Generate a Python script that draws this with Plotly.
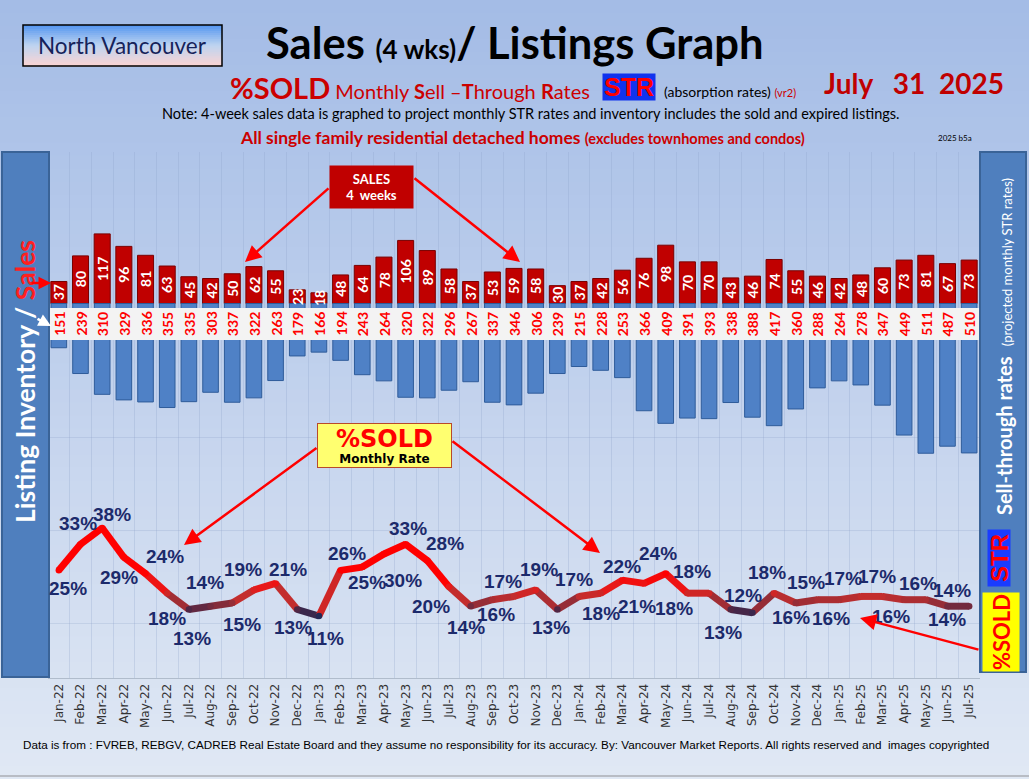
import plotly.graph_objects as go

# ---------------- data ----------------
months = ["Jan-22", "Feb-22", "Mar-22", "Apr-22", "May-22", "Jun-22", "Jul-22", "Aug-22", "Sep-22", "Oct-22", "Nov-22", "Dec-22",
          "Jan-23", "Feb-23", "Mar-23", "Apr-23", "May-23", "Jun-23", "Jul-23", "Aug-23", "Sep-23", "Oct-23", "Nov-23", "Dec-23",
          "Jan-24", "Feb-24", "Mar-24", "Apr-24", "May-24", "Jun-24", "Jul-24", "Aug-24", "Sep-24", "Oct-24", "Nov-24", "Dec-24",
          "Jan-25", "Feb-25", "Mar-25", "Apr-25", "May-25", "Jun-25", "Jul-25"]
sales = [37, 80, 117, 96, 81, 63, 45, 42, 50, 62, 55, 23,
         18, 48, 64, 78, 106, 89, 58, 37, 53, 59, 58, 30,
         37, 42, 56, 76, 98, 70, 70, 43, 46, 74, 55, 46,
         42, 48, 60, 73, 81, 67, 73]
listings = [151, 239, 310, 329, 336, 355, 335, 303, 337, 322, 263, 179,
            166, 194, 243, 264, 320, 322, 296, 267, 337, 346, 306, 239,
            215, 228, 253, 366, 409, 391, 393, 338, 388, 417, 360, 288,
            264, 278, 347, 449, 511, 487, 510]
pct_sold = [25, 33, 38, 29, 24, 18, 13, 14, 15, 19, 21, 13,
            11, 25, 26, 30, 33, 28, 20, 14, 16, 17, 19, 13,
            17, 18, 22, 21, 24, 18, 18, 13, 12, 18, 15, 16,
            16, 17, 17, 16, 16, 14, 14]

# label offsets (pixels: dx right, dy down) for the % labels -- layout only
label_offsets = [(9, 18), (-3, -21), (10, -13), (-5, 20), (19, -17), (0, 25), (3, 29), (-6, -24), (10, 22), (-11, -20),
                 (12, -14), (-4, 18), (7, 22), (26, 12), (-15, -14), (19, 26), (2, -16), (18, -17), (-18, 20), (-5, 21),
                 (4, 15), (-11, -15), (3, -20), (-6, 18), (-5, -17), (0, 20), (0, -14), (-7, 23), (-8, -20), (-13, 15),
                 (-17, -22), (-8, 23), (-9, -17), (-7, -21), (10, -20), (-26, 18), (-8, 19), (-18, -18), (-5, -20), (-13, 17),
                 (-8, -16), (0, 13), (-17, -16)]

# ---------------- geometry helpers ----------------
W, H = 1029, 779
ML, MR, MT, MB = 48, 49, 152, 101
PW, PH = W - ML - MR, H - MT - MB


def px(x):
    return (x - ML) / PW


def py(y):
    return (H - MB - y) / PH


idx = list(range(len(months)))


def lerp(a, b, t):
    return tuple(int(round(a[k] + (b[k] - a[k]) * t)) for k in range(3))


def line_color(v):
    stops = [(11, (35, 40, 85)), (13, (80, 38, 68)), (15, (150, 45, 55)), (17, (195, 45, 45)),
             (20, (232, 25, 25)), (24, (255, 0, 0))]
    if v <= stops[0][0]:
        c = stops[0][1]
    elif v >= stops[-1][0]:
        c = stops[-1][1]
    else:
        for (v0, c0), (v1, c1) in zip(stops[:-1], stops[1:]):
            if v0 <= v <= v1:
                c = lerp(c0, c1, (v - v0) / (v1 - v0))
                break
    return "rgb(%d,%d,%d)" % c


fig = go.Figure()

# sales bars (up)
fig.add_trace(go.Bar(x=idx, y=sales, yaxis="y", width=0.74,
                     marker=dict(color="#c00000", line=dict(color="#7a0000", width=1)),
                     hoverinfo="skip", showlegend=False))
# listings bars (down)
fig.add_trace(go.Bar(x=idx, y=listings, yaxis="y2", width=0.72,
                     marker=dict(color="#4f81c6", line=dict(color="#2f5c9a", width=1)),
                     hoverinfo="skip", showlegend=False))

# %sold line, coloured by level
for i in range(len(idx) - 1):
    v = (pct_sold[i] + pct_sold[i + 1]) / 2
    fig.add_trace(go.Scatter(x=[idx[i], idx[i + 1]], y=[pct_sold[i], pct_sold[i + 1]], yaxis="y3",
                             mode="lines", line=dict(color=line_color(v), width=7),
                             hoverinfo="skip", showlegend=False))
fig.add_trace(go.Scatter(x=idx, y=pct_sold, yaxis="y3", mode="markers",
                         marker=dict(size=6.5, color=[line_color(v) for v in pct_sold]),
                         hoverinfo="skip", showlegend=False))

# ---------------- shapes ----------------
shapes = []
# page gradient
nb = 60
top_c, bot_c = (164, 188, 230), (224, 232, 244)
for k in range(nb):
    y0 = H * k / nb
    y1 = H * (k + 1) / nb + 1
    c = lerp(top_c, bot_c, k / (nb - 1))
    shapes.append(dict(type="rect", xref="paper", yref="paper", x0=px(0), x1=px(W), y0=py(y1), y1=py(y0),
                       fillcolor="rgb(%d,%d,%d)" % c, line=dict(width=0), layer="below"))
# North Vancouver box gradient
nbx = 20
stops_box = [(0, (88, 152, 240)), (0.5, (190, 212, 240)), (1, (248, 212, 212))]
for k in range(nbx):
    t = k / (nbx - 1)
    if t <= 0.5:
        c = lerp(stops_box[0][1], stops_box[1][1], t / 0.5)
    else:
        c = lerp(stops_box[1][1], stops_box[2][1], (t - 0.5) / 0.5)
    y0 = 25 + 41 * k / nbx
    y1 = 25 + 41 * (k + 1) / nbx + 0.5
    shapes.append(dict(type="rect", xref="paper", yref="paper", x0=px(23), x1=px(222), y0=py(y1), y1=py(y0),
                       fillcolor="rgb(%d,%d,%d)" % c, line=dict(width=0), layer="above"))
shapes.append(dict(type="rect", xref="paper", yref="paper", x0=px(23), x1=px(222), y0=py(66), y1=py(25),
                   line=dict(color="black", width=1.5), layer="above"))
# white band for listing counts
shapes.append(dict(type="rect", xref="paper", yref="paper", x0=px(ML + 1), x1=px(980), y0=py(340), y1=py(308),
                   fillcolor="#f3f3f3", line=dict(width=0), layer="above"))
# side panels
shapes.append(dict(type="rect", xref="paper", yref="paper", x0=px(2), x1=px(49), y0=py(677), y1=py(152),
                   fillcolor="#4f7fbe", line=dict(color="#3a6397", width=2), layer="above"))
shapes.append(dict(type="rect", xref="paper", yref="paper", x0=px(980), x1=px(1026), y0=py(672), y1=py(152),
                   fillcolor="#4f7fbe", line=dict(color="#3a6397", width=2), layer="above"))
# bottom edge line
shapes.append(dict(type="line", xref="paper", yref="paper", x0=px(0), x1=px(W), y0=py(776), y1=py(776),
                   line=dict(color="#b8bcc4", width=2), layer="above"))

# ---------------- annotations ----------------
ann = []
# % labels
for i, (v, (dx, dy)) in enumerate(zip(pct_sold, label_offsets)):
    ann.append(dict(x=idx[i], y=v, xref="x", yref="y3", text="<b>%d%%</b>" % v, showarrow=False,
                    xshift=dx, yshift=-dy, xanchor="center", yanchor="middle",
                    font=dict(family="Liberation Sans, Arial", size=19, color="#1c2a6b")))
# sales labels
for i, s in enumerate(sales):
    ann.append(dict(x=idx[i], y=s / 2, xref="x", yref="y", text="<b>%d</b>" % s, showarrow=False,
                    textangle=-90, xanchor="center", yanchor="middle",
                    font=dict(family="Lato", size=14, color="white")))
# listing labels in white band
for i, n in enumerate(listings):
    ann.append(dict(x=idx[i], y=py(324), xref="x", yref="paper", text="<b>%d</b>" % n, showarrow=False,
                    textangle=-90, xanchor="center", yanchor="middle",
                    font=dict(family="Lato", size=14, color="#ff0000")))


def txt(x, y, text, size, color="black", family="Lato", xanchor="center", angle=0, **kw):
    d = dict(x=px(x), y=py(y), xref="paper", yref="paper", text=text, showarrow=False,
             xanchor=xanchor, yanchor="middle", textangle=angle,
             font=dict(family=family, size=size, color=color))
    d.update(kw)
    ann.append(d)


def arrow(x0, y0, x1, y1, color="#ff0000", width=2.5, size=1.3):
    ann.append(dict(x=px(x1), y=py(y1), xref="paper", yref="paper", ax=x0 - x1, ay=y0 - y1,
                    axref="pixel", ayref="pixel", text="", showarrow=True, arrowhead=2,
                    arrowsize=size, arrowwidth=width, arrowcolor=color))


# header
txt(122, 46, "North Vancouver", 22.5, color="#16235a")
txt(514, 42, "<b>Sales <span style='font-size:26px'>(4 wks)</span>/ Listings Graph</b>", 43.5)
txt(592, 87, "<b><span style='font-size:29px'>%SOLD</span></b> Monthly <b>S</b>ell \u2013<b>T</b>hrough <b>R</b>ates",
    20, color="#cc0000", xanchor="right")
txt(628.5, 87, "<b>STR</b>", 25, color="#ff0000", family="Liberation Sans, Arial",
    bgcolor="#1133ee", width=50, height=24, borderpad=1)
txt(662, 91, "(absorption rates) <span style='font-size:11px;color:#cc0000'>(vr2)</span>", 14, xanchor="left")
txt(914, 83, "<b>July\u00a0\u00a0\u00a031\u00a0\u00a02025</b>", 28, color="#c00000")
txt(531, 114, "Note: 4-week sales data is graphed to project monthly STR rates and inventory includes the sold and expired listings.",
    14.5)
txt(522, 137, "<b>All single family residential detached homes <span style='font-size:14.5px'>(excludes townhomes and condos)</span></b>",
    17.5, color="#cc0000")
txt(955, 138, "2025 b5a", 8)

# side panel texts
txt(25, 382, "<b>Listing Inventory / <span style='color:#ff2020'>Sales</span></b>", 26.5, color="white", angle=-90)
txt(1004, 347, "<b>Sell-through rates</b>\u00a0\u00a0<span style='font-size:13px'>(projected monthly STR rates)</span>",
    20, color="white", angle=-90)
txt(999, 558, "<b>STR</b>", 24, color="#ff0000", family="Liberation Sans, Arial", angle=-90,
    bgcolor="#1a3cff", width=56, height=22, borderpad=0)
txt(1001, 632, "<b>%SOLD</b>", 22, color="#ff0000", angle=-90,
    bgcolor="#ffff00", width=78, height=36, borderpad=0)

# callout boxes
txt(371.5, 187, "<b>SALES<br>4\u00a0\u00a0weeks</b>", 13, color="white",
    bgcolor="#c00000", width=83, height=42, borderpad=0)
txt(384.5, 445.5, "<span style='font-size:24px;color:#ff0000'><b>%SOLD</b></span><br><b>Monthly Rate</b>", 12,
    family="DejaVu Sans", bgcolor="#ffff70", bordercolor="#b84a2a", borderwidth=1, width=131, borderpad=1)

# arrows
arrow(330, 187, 245, 262)
arrow(413, 177, 520, 262)
arrow(318, 447, 184, 545)
arrow(451, 440, 600, 553)
arrow(980, 650, 860, 618)
arrow(30, 283, 51, 283, width=2.5, size=1)
arrow(36, 318, 51, 326, color="white", width=2.5, size=1)

# footer
txt(506, 744, "Data is from : FVREB, REBGV, CADREB Real Estate Board and they assume no responsibility for its accuracy. "
    "By: Vancouver Market Reports. All rights reserved and  images copyrighted", 11.7,
    family="Liberation Sans, Arial")

# ---------------- axes ----------------
sales_scale = 0.595   # px per unit
list_scale = 0.293
base_px = 303.5
pct_px11, pct_scale = 616, 3.26

fig.update_layout(
    width=W, height=H,
    margin=dict(l=ML, r=MR, t=MT, b=MB, pad=0),
    paper_bgcolor="rgb(190,208,236)", plot_bgcolor="rgba(0,0,0,0)",
    barmode="overlay", showlegend=False,
    shapes=shapes, annotations=ann,
    xaxis=dict(range=[-0.5, len(months) - 0.5], tickmode="array", tickvals=idx, ticktext=months,
               tickangle=-90, tickfont=dict(family="DejaVu Sans", size=12, color="#333333"),
               showgrid=False, zeroline=False, showline=True, linecolor="#b0bccc", ticks="",
               minor=dict(tickmode="array", tickvals=[i + 0.5 for i in idx[:-1]], showgrid=True,
                          gridcolor="rgba(140,160,200,0.28)", gridwidth=1, ticks="")),
    yaxis=dict(range=[-(H - MB - base_px) / sales_scale, (base_px - MT) / sales_scale],
               visible=False, fixedrange=True),
    yaxis2=dict(range=[(H - MB - base_px) / list_scale, -(base_px - MT) / list_scale],
                overlaying="y", visible=False),
    yaxis3=dict(range=[11 - (H - MB - pct_px11) / pct_scale, 11 + (pct_px11 - MT) / pct_scale],
                overlaying="y", showticklabels=False, zeroline=False, showline=False,
                tickmode="array", tickvals=[11 - 7 / pct_scale, 11 + 86 / pct_scale, 11 + 179 / pct_scale],
                showgrid=True, gridcolor="rgba(140,160,200,0.25)"),
)

fig.write_html("out.html", config={"displayModeBar": False},
               post_script="document.body.style.margin='0';document.body.style.overflow='hidden';")
